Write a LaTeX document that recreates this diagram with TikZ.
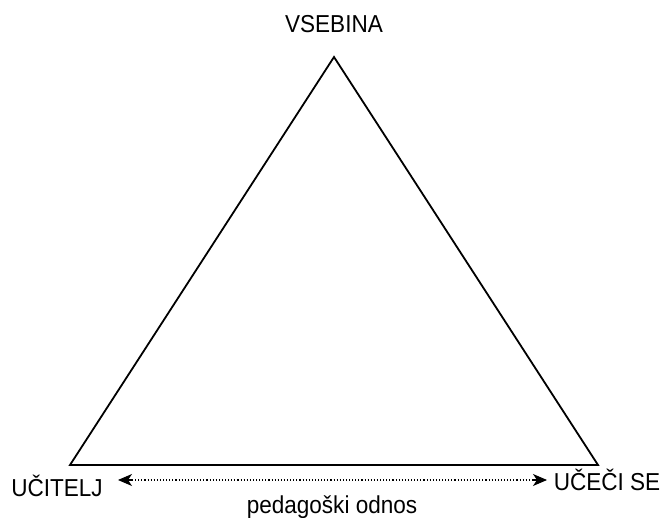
\documentclass[tikz,border=0pt]{standalone}
\usepackage{fontspec}
\setmainfont{Liberation Sans}[FakeStretch=0.92]
\usetikzlibrary{arrows.meta}
\begin{document}
\begin{tikzpicture}[x=1pt,y=-1pt,
  edge/.style={line width=1.8pt},
  lbl/.style={font=\fontsize{24.5}{28}\selectfont, inner sep=0pt, anchor=base},
  tipline/.style={line width=1.1pt, -{Stealth[length=14pt,width=12pt,inset=4pt]}},
  rel/.style={dotted, line width=1.1pt}]
\useasboundingbox (0,0) rectangle (662,518);
\coordinate (top) at (334,57);
\coordinate (bl) at (70,465);
\coordinate (br) at (598,465);
\draw[edge, line join=miter] (top) -- (bl) -- (br) -- cycle;
\node[lbl] (vsebina) at (334,33) {VSEBINA};
\node[lbl] (ucitelj) at (57,497) {UČITELJ};
\node[lbl] (ucecise) at (607,491) {UČEČI SE};
\node[lbl] (odnos) at (332,514) {pedagoški odnos};
\coordinate (al) at (118,480);
\coordinate (ar) at (547,480);
\coordinate (alb) at (132,480);
\coordinate (arb) at (533,480);
\draw[rel] (alb) -- (arb);
\draw[tipline] (alb) -- (al);
\draw[tipline] (arb) -- (ar);
\end{tikzpicture}
\end{document}
